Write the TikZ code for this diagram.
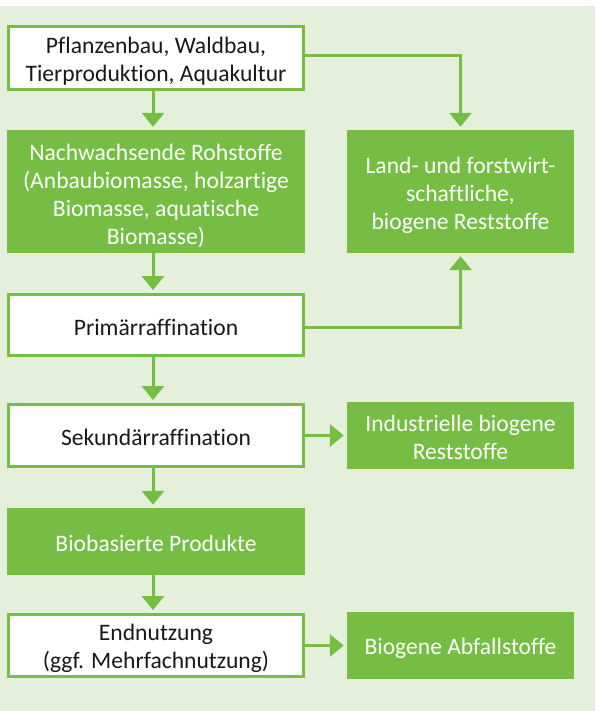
\documentclass[tikz,border=0pt]{standalone}
\usepackage{fontspec}
\setmainfont{Carlito}[Ligatures=NoCommon]
\usetikzlibrary{arrows.meta}
\definecolor{leaf}{RGB}{118,190,67}
\definecolor{pale}{RGB}{229,240,220}
\definecolor{ink}{RGB}{25,25,25}
\begin{document}
\begin{tikzpicture}[x=1pt,y=-1pt,
  every node/.style={inner sep=0pt},
  openbox/.style={draw=leaf, line width=3pt, fill=white},
  fullbox/.style={fill=leaf},
  dark/.style={align=center, text=ink, font=\fontsize{23.6}{28}\selectfont},
  light/.style={align=center, text=white, font=\fontsize{23.6}{28}\selectfont},
  link/.style={draw=leaf, line width=3pt},
  flow/.style={link, -{Triangle[width=22pt,length=14pt]}, shorten >=3pt}]
% canvas
\fill[white] (0,0) rectangle (595,711);
\fill[pale] (0,6) rectangle (595,711);
\useasboundingbox (0,0) rectangle (595,711);
% left column boxes
\node[openbox, minimum width=295pt, minimum height=63pt] (src) at (156,58) {};
\node[fullbox, minimum width=298pt, minimum height=123pt] (raw) at (156,191.5) {};
\node[openbox, minimum width=295pt, minimum height=61pt] (prim) at (156,325) {};
\node[openbox, minimum width=295pt, minimum height=62pt] (sek) at (156,435.5) {};
\node[fullbox, minimum width=298pt, minimum height=67pt] (prod) at (156,541.5) {};
\node[openbox, minimum width=295pt, minimum height=62pt] (use) at (156,645.5) {};
% right column boxes
\node[fullbox, minimum width=227pt, minimum height=123pt] (rest) at (460.5,191.5) {};
\node[fullbox, minimum width=227pt, minimum height=67pt] (ind) at (460.5,435.5) {};
\node[fullbox, minimum width=227pt, minimum height=67pt] (waste) at (460.5,645.5) {};
% box texts
\node[dark] (src-t) at ([yshift=-3pt]src.center) {Pflanzenbau, Waldbau,\\Tierproduktion, Aquakultur};
\node[light] (raw-t) at ([yshift=-4.5pt]raw.center) {Nachwachsende Rohstoffe\\(Anbaubiomasse, holzartige\\Biomasse, aquatische\\Biomasse)};
\node[dark] (prim-t) at ([yshift=-2pt]prim.center) {Primärraffination};
\node[dark] (sek-t) at ([yshift=-2pt]sek.center) {Sekundärraffination};
\node[light] (prod-t) at ([yshift=-2pt]prod.center) {Biobasierte Produkte};
\node[dark] (use-t) at ([yshift=-2.5pt]use.center) {Endnutzung\\(ggf. Mehrfachnutzung)};
\node[light] (rest-t) at ([yshift=-4pt]rest.center) {Land- und forstwirt-\\schaftliche,\\biogene Reststoffe};
\node[light] (ind-t) at ([yshift=-2pt]ind.center) {Industrielle biogene\\Reststoffe};
\node[light] (waste-t) at ([yshift=-3pt]waste.center) {Biogene Abfallstoffe};
% connectors
\coordinate (axis) at (153,0);
\draw[flow] (src.south -| axis) -- (raw.north -| axis);
\draw[flow] (raw.south -| axis) -- (prim.north -| axis);
\draw[flow] (prim.south -| axis) -- (sek.north -| axis);
\draw[flow] (sek.south -| axis) -- (prod.north -| axis);
\draw[flow] (prod.south -| axis) -- (use.north -| axis);
\draw[flow] ([yshift=2pt]src.east) -| (rest.north);
\draw[flow] ([yshift=-2pt]prim.east) -| (rest.south);
\draw[flow] (sek.east) -- (ind.west |- sek.east);
\draw[flow] (use.east) -- (waste.west |- use.east);
\end{tikzpicture}
\end{document}
